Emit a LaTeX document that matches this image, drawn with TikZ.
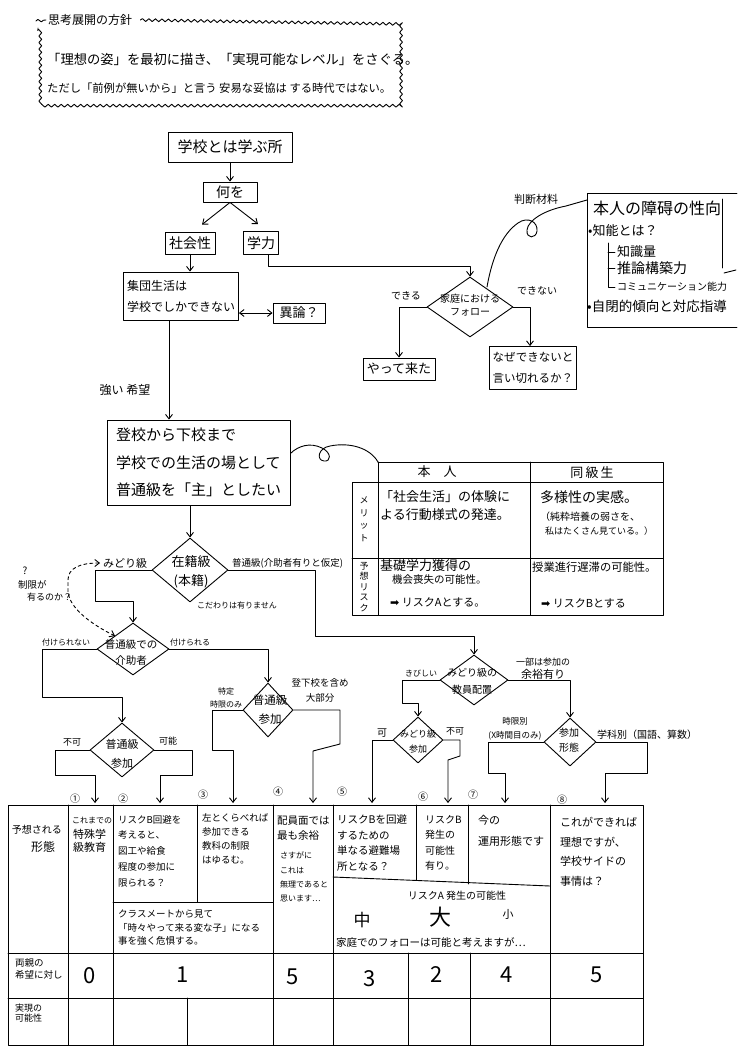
\documentclass[tikz,border=0pt]{standalone}
\usepackage{fontspec}
\setmainfont{Noto Sans CJK JP}
\newfontfamily\dv{DejaVu Sans}
\usetikzlibrary{shapes.geometric,arrows.meta,decorations.pathmorphing,calc}
\newcommand\fz[2]{\fontsize{#1}{#2}\selectfont}
\begin{document}
\begin{tikzpicture}[x=1pt,y=-1pt,
  >={Straight Barb[length=4.5pt,width=7pt]},
  ln/.style={line width=0.9pt,line join=round,line cap=round},
  arr/.style={ln,->},
  box/.style={draw,ln,rectangle,inner sep=0pt},
  dia/.style={draw,ln,diamond,inner sep=0pt},
  tx/.style={inner sep=0pt},
  wavy/.style={ln,decorate,decoration={snake,amplitude=1.4pt,segment length=6.5pt}},
  dsh/.style={ln,dash pattern=on 3pt off 3pt}]
\fill[white] (0,0) rectangle (737,1048);
\useasboundingbox (0,0) rectangle (737,1048);

% ---------- header ----------
\node[tx,anchor=west,font=\fz{12}{14}] (title) at (48,20) {思考展開の方針};
\draw[wavy] (36,21) -- ([xshift=-2pt]title.west);
\draw[wavy] ([xshift=8pt]title.east) -- (400,24) -- (400,108) -- (38,108) -- (38,28);
\node[tx,anchor=west,font=\fz{13.3}{16}] (line1) at (47,59) {「理想の姿」を最初に描き、「実現可能なレベル」をさぐる。};
\node[tx,anchor=west,font=\fz{11.3}{14}] (line2) at (47,88) {ただし「前例が無いから」と言う 安易な妥協は する時代ではない。};

% ---------- upper flow ----------
\node[box,minimum width=124,minimum height=30,font=\fz{15}{18}] (school) at (230,147) {学校とは学ぶ所};
\node[box,minimum width=54,minimum height=20,font=\fz{14}{16}] (what) at (230,192) {何を};
\node[box,minimum width=50,minimum height=22,font=\fz{14}{16}] (soc) at (190,243) {社会性};
\node[box,minimum width=35,minimum height=23,font=\fz{14}{16}] (gak) at (261,243) {学力};
\node[box,minimum width=115,minimum height=48,align=left,font=\fz{12}{21}] (group) at (181,296) {集団生活は\\学校でしかできない};
\node[box,minimum width=52,minimum height=20,font=\fz{13}{15}] (objection) at (299,313) {異論？};
\draw[arr] (school.south) -- (what.north);
\draw[arr] (what.south) -- ($(soc.north)+(12,-7)$);
\draw[arr] (what.south) -- ($(gak.north)+(-3,-7)$);
\draw[arr] (soc.south) -- (soc.south |- group.north);
\draw[ln,<->] (group.east |- objection.west) -- (objection.west);

% family follow diamond
\node[dia,minimum width=86,minimum height=60] (fam) at (470,307) {};
\node[tx,align=center,font=\fz{10}{13}] (famt) at (470,305) {家庭における\\フォロー};
\node[tx,font=\fz{10}{12}] (can) at (406,296) {できる};
\node[tx,font=\fz{10}{12}] (cannot) at (537,291) {できない};
\node[box,minimum width=72,minimum height=22,font=\fz{13}{15}] (came) at (399,369) {やって来た};
\node[box,minimum width=87,minimum height=43,align=left,font=\fz{11.5}{21}] (naze) at (533,368) {なぜできないと\\言い切れるか？};
\draw[arr] ([xshift=7pt]gak.south) -- ++(0,12) -| (fam.north);
\draw[arr] (fam.west) -| (came.north);
\draw[arr] (fam.east) -| ([xshift=-3pt]naze.north);

% trait box
\coordinate (trait) at (587,200);
\draw[ln] (737,193) -- (587,193) -- (587,327) -- (737,327);
\draw[ln] (722,199) -- (722,268);
\draw[ln] (724,273) -- (736,270);
\node[tx,anchor=west,font=\fz{16}{18}] (tr1) at (593,208) {本人の障碍の性向};
\node[tx,anchor=west,font=\fz{13}{15}] (tr2) at (588,231) {•知能とは？};
\draw[ln] (608,243) |- (615,287);
\draw[ln] (608,252) -- (615,252);
\draw[ln] (608,268) -- (615,268);
\node[tx,anchor=west,font=\fz{13}{15}] (k1) at (617,252) {知識量};
\node[tx,anchor=west,font=\fz{14}{16}] (k2) at (617,268) {推論構築力};
\node[tx,anchor=west,font=\fz{10}{12}] (k3) at (617,287) {コミュニケーション能力};
\node[tx,anchor=west,font=\fz{13.5}{16}] (tr3) at (587,306) {•自閉的傾向と対応指導};
\node[tx,font=\fz{11}{13}] (judge) at (536,199) {判断材料};
\draw[ln] ([shift={(17,-20)}]fam.center) .. controls (492,258) and (502,234) .. (518,223)
  .. controls (528,216) and (538,222) .. (537,231)
  .. controls (536,239) and (526,239) .. (527,230)
  .. controls (528,220) and (545,210) .. (566,206) -- (trait);

% ---------- middle ----------
\node[tx,font=\fz{12}{14}] (hope) at (125,390) {強い 希望};
\node[box,minimum width=183,minimum height=85,align=left,font=\fz{15}{27.5}] (tokou) at (198.5,462.5) {登校から下校まで\\学校での生活の場として\\普通級を「主」としたい};
\draw[arr] ([xshift=-12pt]group.south) -- ([xshift=-12pt]group.south |- tokou.north);

% merit / risk table
\coordinate (tbl) at (378,462);
\draw[ln] ([yshift=9pt]tokou.east) .. controls (298,446) and (310,442) .. (322,448)
  .. controls (332,453) and (331,462) .. (324,461)
  .. controls (316,460) and (318,448) .. (330,446)
  .. controls (350,442) and (370,448) .. (tbl);
\draw[ln] (tbl) -- (663,462) -- (663,615) -- (352,615) -- (352,482) -- (663,482);
\draw[ln] (tbl) -- (378,615);
\draw[ln] (530,462) -- (530,615);
\draw[ln] (352,558) -- (663,558);
\node[tx,font=\fz{13}{15}] (hdr1) at (437,472) {本\quad 人};
\node[tx,font=\fz{13}{15}] (hdr2) at (592,473) {同\,級\,生};
\node[tx,align=center,font=\fz{9}{12.5}] (merit) at (364,519) {メ\\リ\\ッ\\ト};
\node[tx,align=center,font=\fz{9}{10.5}] (risk) at (364,587) {予\\想\\リ\\ス\\ク};
\node[tx,anchor=west,align=left,font=\fz{13}{18}] (c11) at (380,506) {「社会生活」の体験に\\よる行動様式の発達。};
\node[tx,anchor=west,font=\fz{14}{16}] (c12) at (540,497) {多様性の実感。};
\node[tx,anchor=west,font=\fz{10}{12}] (c12b) at (540,517) {（純粋培養の弱さを、};
\node[tx,anchor=west,font=\fz{9}{11}] (c12c) at (545,531) {私はたくさん見ている。）};
\node[tx,anchor=west,font=\fz{13}{15}] (c21) at (380,566) {基礎学力獲得の};
\node[tx,anchor=west,font=\fz{10.5}{12}] (c21b) at (392,580) {機会喪失の可能性。};
\node[tx,anchor=west,font=\fz{11}{13}] (c21c) at (390,602) {{\dv ➡} リスクAとする。};
\node[tx,anchor=west,font=\fz{11.3}{13}] (c22) at (532,567) {授業進行遅滞の可能性。};
\node[tx,anchor=west,font=\fz{11}{13}] (c22b) at (541,603) {{\dv ➡} リスクBとする};

% enrolment diamond
\node[dia,minimum width=76,minimum height=64] (zai) at (190,570) {};
\node[tx,align=center,font=\fz{13}{19}] (zait) at (191,572) {在籍級\\(本籍)};
\draw[arr] (zai.north |- tokou.south) -- (zai.north);
\node[tx,anchor=west,font=\fz{11}{13}] (midori) at (103,563) {みどり級};
\node[tx,anchor=west,font=\fz{9.5}{11}] (futsu1) at (232,563) {普通級(介助者有りと仮定)};
\node[tx,anchor=west,font=\fz{8}{10}] (kodawari) at (197,605) {こだわりは有りません};
\node[tx,font=\fz{10}{12}] (qmark) at (25,571) {?};
\node[tx,anchor=west,font=\fz{9.5}{11}] (lim1) at (18,585) {制限が};
\node[tx,anchor=west,font=\fz{9}{11}] (lim2) at (27,597) {有るのか？};

% helper diamond
\node[dia,minimum width=72,minimum height=52] (kai) at (133,649) {};
\node[tx,align=center,font=\fz{10.5}{16}] (kait) at (131,653) {普通級での\\介助者};
\node[tx,font=\fz{8}{10}] (tsukenai) at (66,642) {付けられない};
\node[tx,font=\fz{8}{10}] (tsukeru) at (190,642) {付けられる};
\draw[dsh,<->] ([xshift=-3pt]midori.west) .. controls (80,563) and (68,568) .. (68,580)
  -- (68,592) .. controls (70,610) and (95,626) .. ([shift={(-18,-13)}]kai.center);
\draw[arr] (zai.west) -| (95,601) -| (kai.north);

% general-class participation (right)
\node[dia,minimum width=50,minimum height=54] (sanka2) at (268,710) {};
\node[tx,align=center,font=\fz{11.5}{19}] (sanka2t) at (270,710) {普通級\\参加};
\node[tx,align=center,font=\fz{8}{12.5}] (tokutei) at (226,698) {特定\\時限のみ};
\node[tx,align=center,font=\fz{9.5}{15}] (daibubun) at (320,690) {登下校を含め\\大部分};
\draw[arr] (kai.east) -| (sanka2.north);

% general-class participation (left)
\node[dia,minimum width=64,minimum height=54] (sanka1) at (122,750) {};
\node[tx,align=center,font=\fz{11}{19}] (sanka1t) at (122,754) {普通級\\参加};
\node[tx,font=\fz{9}{11}] (fuka1) at (72,742) {不可};
\node[tx,font=\fz{9}{11}] (kano1) at (168,741) {可能};
\draw[arr] (kai.west) -| (42,697) -| (sanka1.north);

% midori staffing diamond
\node[dia,minimum width=68,minimum height=50] (mid) at (474,680) {};
\node[tx,align=center,font=\fz{10}{17}] (midt) at (472,681) {みどり級の\\教員配置};
\node[tx,font=\fz{8}{10}] (kibishii) at (421,673) {きびしい};
\node[tx,font=\fz{9}{11}] (yoyu1) at (543,662) {一部は参加の};
\node[tx,font=\fz{11}{13}] (yoyu2) at (543,674) {余裕有り};
\draw[arr] (zai.east) -| (315,636) -| (mid.north);

% midori participation
\node[dia,minimum width=50,minimum height=46] (mds) at (418,740) {};
\node[tx,align=center,font=\fz{9}{15}] (mdst) at (418,742) {みどり級\\参加};
\node[tx,font=\fz{10}{12}] (ka5) at (382,733) {可};
\node[tx,font=\fz{9}{11}] (fuka5) at (455,731) {不可};
\draw[arr] (mid.west) -| (402,703) -| (mds.north);

% participation form
\node[dia,minimum width=52,minimum height=48] (form) at (570,742) {};
\node[tx,align=center,font=\fz{10}{15}] (formt) at (569,740) {参加\\形態};
\node[tx,align=center,font=\fz{8.5}{14}] (jigen) at (515,729) {時限別\\(X時間目のみ)};
\node[tx,anchor=west,font=\fz{10}{12}] (gakka) at (597,735) {学科別（国語、算数）};
\draw[arr] (mid.east) -| (form.north);

% ---------- entry points of the big table ----------
\coordinate (in1) at (95,803);
\coordinate (in2) at (160,803);
\coordinate (in3) at (233,803);
\coordinate (in4) at (313,803);
\coordinate (in5) at (372,803);
\coordinate (in6) at (448,803);
\coordinate (in7) at (505,803);
\coordinate (in8) at (605,803);
\draw[arr] (sanka1.west) -| (55,775) -| (in1);
\draw[arr] (sanka1.east) -| (192,775) -| (in2);
\draw[arr] (sanka2.west) -| (212,750) -| (in3);
\draw[arr] (sanka2.east) -| (340,744) -- (313,751) -- (in4);
\draw[arr] (mds.west) -| (in5);
\draw[arr] (mds.east) -| (460,756) -- (448,760) -- (in6);
\draw[arr] (form.west) -| (488,773) -| (in7);
\draw[arr] (form.east) -| (647,773) -| (in8);

\node[tx,font=\fz{10}{12}] (n1) at (75,799) {①};
\node[tx,font=\fz{10}{12}] (n2) at (123,799) {②};
\node[tx,font=\fz{10}{12}] (n3) at (203,795) {③};
\node[tx,font=\fz{10}{12}] (n4) at (278,792) {④};
\node[tx,font=\fz{10}{12}] (n5) at (342,792) {⑤};
\node[tx,font=\fz{10}{12}] (n6) at (423,797) {⑥};
\node[tx,font=\fz{10}{12}] (n7) at (473,795) {⑦};
\node[tx,font=\fz{10}{12}] (n8) at (562,800) {⑧};

% ---------- big table ----------
\draw[ln] (8,805) rectangle (643,1045);
\draw[ln] (8,953) -- (643,953);
\draw[ln] (8,998) -- (643,998);
\foreach \xx in {68,113,273,333,550} \draw[ln] (\xx,805) -- (\xx,1045);
\draw[ln] (197,805) -- (197,902);
\draw[ln] (187,998) -- (187,1045);
\draw[ln] (113,902) -- (273,902);
\draw[ln] (333,877) -- (550,886);
\draw[ln] (416,805) -- (416,880);
\draw[ln] (408,953) -- (408,1045);
\draw[ln] (468,805) -- (468,884);
\draw[ln] (470,953) -- (470,1045);

\node[tx,font=\fz{10}{12}] (yoso1) at (37,830) {予想される};
\node[tx,font=\fz{12}{14}] (yoso2) at (43,847) {形態};
\node[tx,anchor=west,align=left,font=\fz{9.5}{12.5}] (ryoshin) at (15,969) {両親の\\希望に対し};
\node[tx,anchor=west,align=left,font=\fz{9}{10.5}] (jitsu) at (15,1013) {実現の\\可能性};

\node[tx,anchor=west,font=\fz{8}{10}] (c1a) at (72,820) {これまでの};
\node[tx,anchor=west,align=left,font=\fz{11}{13.5}] (c1b) at (73,841) {特殊学\\級教育};
\node[tx,anchor=west,align=left,font=\fz{9.5}{15.7}] (c2) at (118,851) {リスクB回避を\\考えると、\\図工や給食\\程度の参加に\\限られる？};
\node[tx,anchor=west,align=left,font=\fz{9.5}{14}] (c3) at (202,839) {左とくらべれば\\参加できる\\教科の制限\\はゆるむ。};
\node[tx,anchor=west,align=left,font=\fz{9.5}{13.5}] (c23) at (118,928) {クラスメートから見て\\「時々やって来る変な子」になる\\事を強く危惧する。};
\node[tx,anchor=west,align=left,font=\fz{10.5}{15}] (c4a) at (277,828) {配員面では\\最も余裕};
\node[tx,anchor=west,align=left,font=\fz{8}{14.3}] (c4b) at (280,877) {さすがに\\これは\\無理であると\\思います…};
\node[tx,anchor=west,align=left,font=\fz{10.5}{15.5}] (c5) at (337,843) {リスクBを回避\\するための\\単なる避難場\\所となる？};
\node[tx,anchor=west,align=left,font=\fz{10}{15.5}] (c6) at (425,843) {リスクB\\発生の\\可能性\\有り。};
\node[tx,anchor=west,font=\fz{11}{13}] (c7a) at (478,820) {今の};
\node[tx,anchor=west,font=\fz{11}{13}] (c7b) at (478,841) {運用形態です};
\node[tx,anchor=west,align=left,font=\fz{11}{19.5}] (c8) at (560,852) {これができれば\\理想ですが、\\学校サイドの\\事情は？};
\node[tx,font=\fz{10}{12}] (riskA) at (457,896) {リスクA 発生の可能性};
\node[tx,font=\fz{17}{20}] (chu) at (362,920) {中};
\node[tx,font=\fz{22}{26}] (dai) at (440,917) {大};
\node[tx,font=\fz{11}{13}] (sho) at (508,914) {小};
\node[tx,anchor=west,font=\fz{10.5}{12}] (katei) at (336,942) {家庭でのフォローは可能と考えますが…};

\node[tx,font=\fz{22}{26}] (v1) at (90,976) {0};
\node[tx,font=\fz{22}{26}] (v2) at (183,975) {1};
\node[tx,font=\fz{22}{26}] (v3) at (293,977) {5};
\node[tx,font=\fz{22}{26}] (v4) at (370,979) {3};
\node[tx,font=\fz{22}{26}] (v5) at (437,975) {2};
\node[tx,font=\fz{22}{26}] (v6) at (507,975) {4};
\node[tx,font=\fz{22}{26}] (v7) at (597,975) {5};
\end{tikzpicture}
\end{document}
